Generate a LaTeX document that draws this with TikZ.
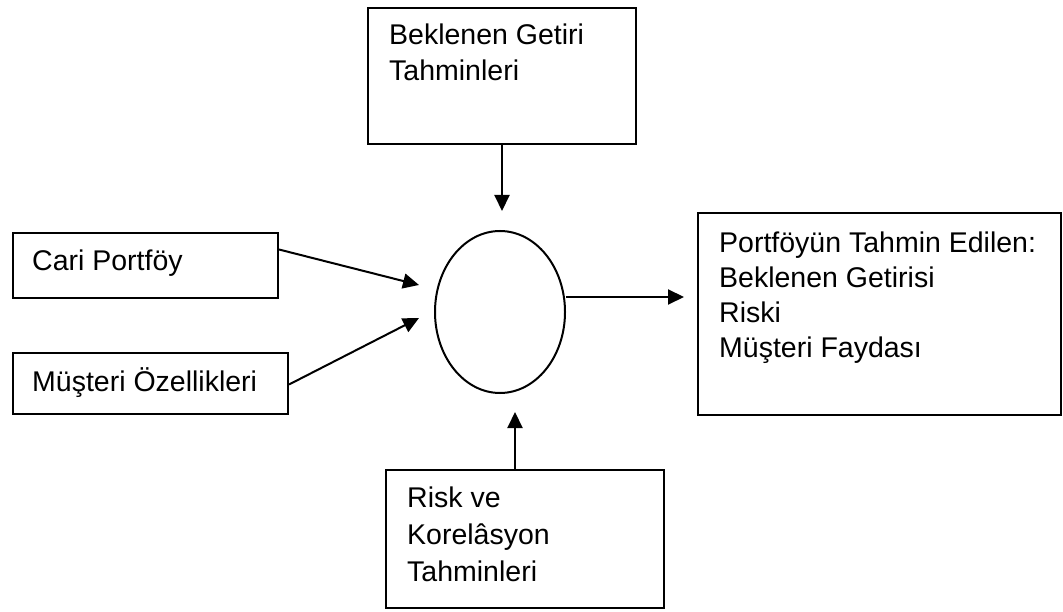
\documentclass[tikz,border=0pt]{standalone}
\usepackage{fontspec}
\setmainfont{Liberation Sans}
\usetikzlibrary{arrows.meta,shapes.geometric}
\begin{document}
\begin{tikzpicture}[x=1pt,y=-1pt,
  box/.style={draw, line width=2pt, inner sep=0pt, anchor=north west},
  lbl/.style={inner sep=0pt, anchor=base west, align=left,
    font=\fontsize{28.5}{36}\selectfont},
  flow/.style={line width=2pt, -{Triangle[length=16pt,width=15pt]}}]
\useasboundingbox (0,0) rectangle (1063,612);

% input / output boxes
\node[box, minimum width=268pt, minimum height=136pt] (gt) at (367,7) {};
\node[box, minimum width=265pt, minimum height=65pt] (cp) at (12,232) {};
\node[box, minimum width=275pt, minimum height=61pt] (mo) at (12,352) {};
\node[box, minimum width=363pt, minimum height=202pt] (out) at (697,212) {};
\node[box, minimum width=278pt, minimum height=138pt] (rk) at (385,469) {};

% central process
\node[draw, line width=2pt, ellipse, minimum width=130pt, minimum height=162pt, inner sep=0pt] (opt) at (500,312) {};

% texts (anchored at the baseline of their last line)
\node[lbl] (gtt) at (389,81) {Beklenen Getiri\\Tahminleri};
\node[lbl] (cpt) at (32,271) {Cari Portföy};
\node[lbl] (mot) at (32,391) {Müşteri Özellikleri};
\node[lbl, font=\fontsize{28.5}{35}\selectfont] (outt) at (719,357) {Portföyün Tahmin Edilen:\\Beklenen Getirisi\\Riski\\Müşteri Faydası};
\node[lbl, font=\fontsize{28.5}{37}\selectfont] (rkt) at (407,581) {Risk ve\\Korelâsyon\\Tahminleri};

% arrow tips
\coordinate (tTop) at (502,211);
\coordinate (tCp) at (419,285);
\coordinate (tMo) at (419,318);
\coordinate (tOut) at (684,297);
\coordinate (tRk) at (515,412);

% connectors
\draw[flow] (gt.south -| tTop) -- (tTop);
\draw[flow] ([yshift=16pt]cp.east) -- (tCp);
\draw[flow] ([yshift=-1pt]mo.east) -- (tMo);
\draw[flow] (opt.east |- tOut) -- (tOut);
\draw[flow] (rk.north -| tRk) -- (tRk);
\end{tikzpicture}
\end{document}
